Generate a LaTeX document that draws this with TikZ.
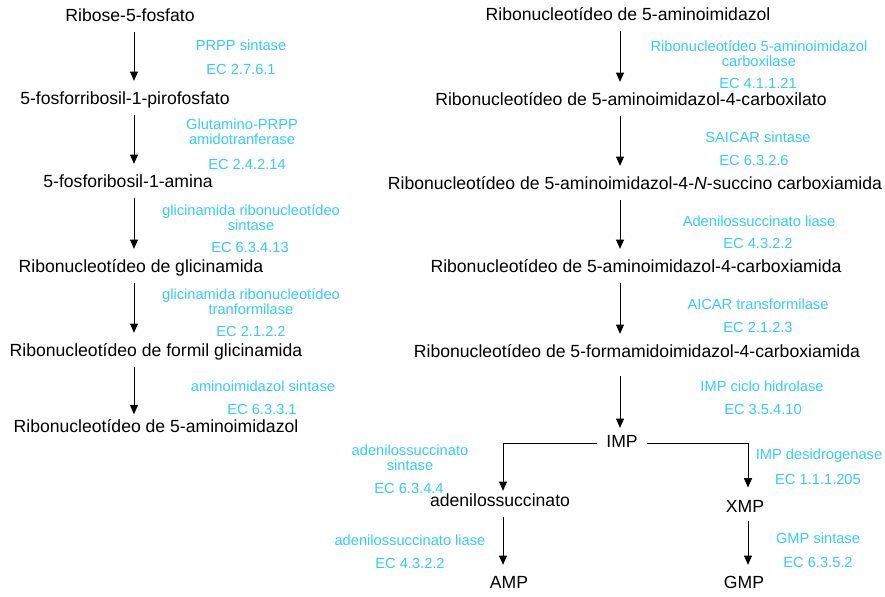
\documentclass[tikz,border=0pt]{standalone}
\usepackage{fontspec}
\usepackage{xcolor}
\usepackage{tikz}
\usetikzlibrary{arrows,arrows.meta,positioning,calc}
\setmainfont{Liberation Sans}
\definecolor{enzblue}{RGB}{51,204,255}

\begin{document}
\begin{tikzpicture}[x=0.75pt, y=-0.75pt, >={Triangle[length=7pt,width=6pt]}, line width=0.75pt]
  % Styles
  \tikzstyle{compound} = [inner sep=2pt, text height=9.5pt, text depth=2.5pt, font=\fontsize{13.2}{15}\selectfont]
  \tikzstyle{enzyme} = [inner sep=0pt, align=center, text=enzblue, font=\fontsize{11}{11.25}\selectfont]
  \tikzstyle{flow} = [->, shorten <=3pt, shorten >=6pt]
  \tikzstyle{branch} = [->, shorten <=5pt]

  \useasboundingbox (0,0) rectangle (885,596);

  % Columns of the arrows
  \coordinate (col1) at (134,0);
  \coordinate (col2) at (620,0);
  \coordinate (colA) at (503,0);
  \coordinate (colX) at (748,0);

  % Compounds, left column
  \node [compound] (r5p) at (130,17) {Ribose-5-fosfato};
  \node [compound] (prpp) at (125,100) {5-fosforribosil-1-pirofosfato};
  \node [compound] (pra) at (128,183) {5-fosforibosil-1-amina};
  \node [compound] (gar) at (141,268) {Ribonucleotídeo de glicinamida};
  \node [compound] (fgar) at (156,352) {Ribonucleotídeo de formil glicinamida};
  \node [compound] (air) at (156,428) {Ribonucleotídeo de 5-aminoimidazol};

  % Compounds, right column
  \node [compound] (air2) at (628,16) {Ribonucleotídeo de 5-aminoimidazol};
  \node [compound] (cair) at (631,101) {Ribonucleotídeo de 5-aminoimidazol-4-carboxilato};
  \node [compound] (saicar) at (635,185) {Ribonucleotídeo de 5-aminoimidazol-4-\textit{N}-succino carboxiamida};
  \node [compound] (aicar) at (636,268) {Ribonucleotídeo de 5-aminoimidazol-4-carboxiamida};
  \node [compound] (faicar) at (637,353) {Ribonucleotídeo de 5-formamidoimidazol-4-carboxiamida};
  \node [compound] (imp) at (622,443) {IMP};
  \node [compound] (adsucc) at (500,502) {adenilossuccinato};
  \node [compound] (xmp) at (745,508) {XMP};
  \node [compound] (amp) at (509,584) {AMP};
  \node [compound] (gmp) at (744,584) {GMP};

  % Enzymes, left column
  \node [enzyme] (prps) at (241,45) {PRPP sintase};
  \node [enzyme] (prpsec) at (241,69) {EC 2.7.6.1};
  \node [enzyme] (gpat) at (242,132) {Glutamino-PRPP\\amidotranferase};
  \node [enzyme] (gpatec) at (247,164) {EC 2.4.2.14};
  \node [enzyme] (gars) at (251,218) {glicinamida ribonucleotídeo\\sintase};
  \node [enzyme] (garsec) at (250,247) {EC 6.3.4.13};
  \node [enzyme] (gart) at (251,302) {glicinamida ribonucleotídeo\\tranformilase};
  \node [enzyme] (gartec) at (251,331) {EC 2.1.2.2};
  \node [enzyme] (airs) at (263,386) {aminoimidazol sintase};
  \node [enzyme] (airsec) at (262,409) {EC 6.3.3.1};

  % Enzymes, right column
  \node [enzyme] (airc) at (759,54) {Ribonucleotídeo 5-aminoimidazol\\carboxilase};
  \node [enzyme] (aircec) at (758,83) {EC 4.1.1.21};
  \node [enzyme] (saics) at (758,137) {SAICAR sintase};
  \node [enzyme] (saicsec) at (754,160) {EC 6.3.2.6};
  \node [enzyme] (adsl) at (759,221) {Adenilossuccinato liase};
  \node [enzyme] (adslec) at (758,243) {EC 4.3.2.2};
  \node [enzyme] (aict) at (758,304) {AICAR transformilase};
  \node [enzyme] (aictec) at (758,327) {EC 2.1.2.3};
  \node [enzyme] (impch) at (762,386) {IMP ciclo hidrolase};
  \node [enzyme] (impchec) at (763,409) {EC 3.5.4.10};
  \node [enzyme] (adss) at (410,458) {adenilossuccinato\\sintase};
  \node [enzyme] (adssec) at (409,488) {EC 6.3.4.4};
  \node [enzyme] (impdh) at (819,456) {IMP desidrogenase};
  \node [enzyme] (impdhec) at (818,479) {EC 1.1.1.205};
  \node [enzyme] (adsl2) at (410,540) {adenilossuccinato liase};
  \node [enzyme] (adsl2ec) at (410,563) {EC 4.3.2.2};
  \node [enzyme] (gmps) at (818,538) {GMP sintase};
  \node [enzyme] (gmpsec) at (818,562) {EC 6.3.5.2};

  % Connections
  \draw [flow] (r5p.south -| col1) -- (prpp.north -| col1);
  \draw [flow] (prpp.south -| col1) -- (pra.north -| col1);
  \draw [flow] (pra.south -| col1) -- (gar.north -| col1);
  \draw [flow] (gar.south -| col1) -- (fgar.north -| col1);
  \draw [flow, shorten >=2pt] (fgar.south -| col1) -- (air.north -| col1);

  \draw [flow] (air2.south -| col2) -- (cair.north -| col2);
  \draw [flow] (cair.south -| col2) -- (saicar.north -| col2);
  \draw [flow] (saicar.south -| col2) -- (aicar.north -| col2);
  \draw [flow] (aicar.south -| col2) -- (faicar.north -| col2);
  \draw [flow, shorten <=9pt, shorten >=3pt] (faicar.south -| col2) -- (imp.north -| col2);

  \draw [branch] (imp.west) -| (adsucc.north -| colA);
  \draw [branch, shorten >=7pt] (imp.east) -| (xmp.north -| colX);
  \draw [flow] (adsucc.south -| colA) -- (amp.north -| colA);
  \draw [flow, shorten <=1pt] (xmp.south -| colX) -- (gmp.north -| colX);

\end{tikzpicture}
\end{document}
